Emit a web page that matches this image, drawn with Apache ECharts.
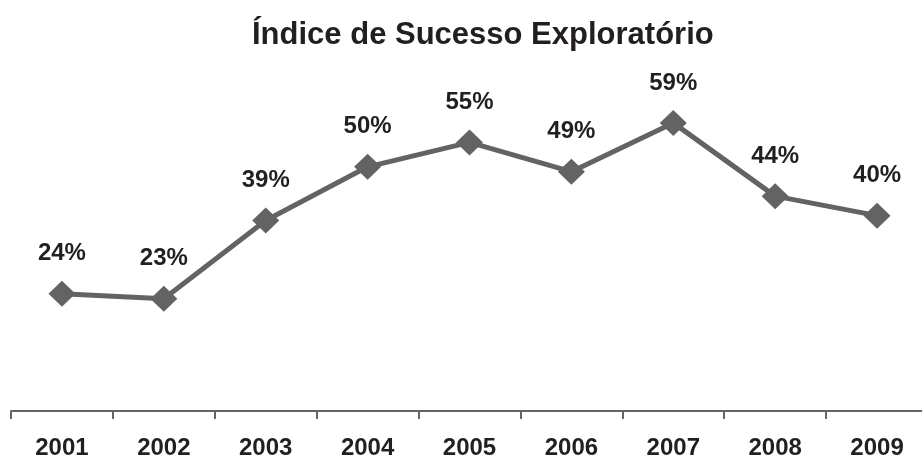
<!DOCTYPE html>
<html lang="pt">
<head>
    <meta charset="utf-8">
    <title>Índice de Sucesso Exploratório</title>
    <script src="https://cdn.jsdelivr.net/npm/echarts@6/dist/echarts.min.js"></script>
</head>
<body style="margin:0">
    <div id="chart" style="width:922px;height:460px;"></div>
<script>
    const years = ['2001', '2002', '2003', '2004', '2005', '2006', '2007', '2008', '2009'];
    const successRate = [24, 23, 39, 50, 55, 49, 59, 44, 40];

    const chart = echarts.init(document.getElementById('chart'));
    const font = '"Liberation Sans", Arial, sans-serif';
    chart.setOption({
        backgroundColor: '#ffffff',
        animation: false,
        title: {
            text: 'Índice de Sucesso Exploratório',
            left: 247,
            top: 15,
            textStyle: { fontFamily: font, fontSize: 31, fontWeight: 'bold', color: '#231f20' }
        },
        grid: { left: 11, width: 917, top: 118, bottom: 49, outerBoundsMode: 'none', containLabel: false },
        xAxis: {
            type: 'category',
            data: years,
            boundaryGap: true,
            axisLine: { lineStyle: { color: '#666666', width: 2 } },
            axisTick: { show: true, length: 8, lineStyle: { color: '#666666', width: 2 } },
            axisLabel: { fontFamily: font, fontSize: 24, fontWeight: 'bold', color: '#231f20', margin: 25 }
        },
        yAxis: { type: 'value', min: 0, max: 60, show: false, splitLine: { show: false } },
        series: [{
            type: 'line',
            data: successRate,
            symbol: 'diamond',
            symbolSize: [27, 26],
            itemStyle: { color: '#636366' },
            lineStyle: { color: '#636366', width: 5 },
            label: {
                show: true,
                position: 'top',
                distance: 15,
                formatter: '{c}%',
                fontFamily: font,
                fontSize: 24,
                fontWeight: 'bold',
                color: '#231f20'
            }
        }]
    });
</script>
</body>
</html>
